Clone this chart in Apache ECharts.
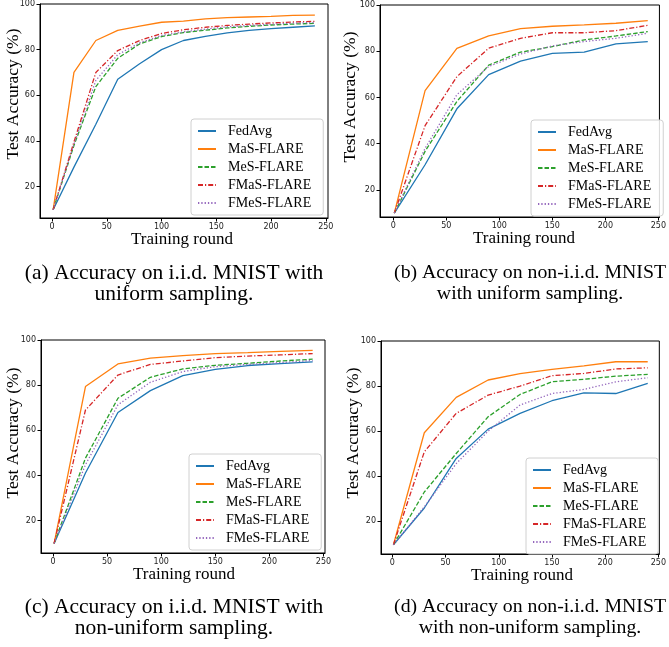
<!DOCTYPE html>
<html>
<head>
<meta charset="utf-8">
<script src="https://cdn.jsdelivr.net/npm/echarts@6/dist/echarts.min.js"></script>
<style>
html,body{margin:0;padding:0;background:#fff;}
#chart{width:669px;height:647px;}
</style>
</head>
<body>
<div id="chart"></div>
<script>
// ---------- data ----------
const seriesNames = ['FedAvg', 'MaS-FLARE', 'MeS-FLARE', 'FMaS-FLARE', 'FMeS-FLARE'];
const roundsA = [1, 20, 40, 60, 80, 100, 120, 140, 160, 180, 200, 220, 240];
const roundsB = [1, 30, 60, 90, 120, 150, 180, 210, 240];
const xTicks = [0, 50, 100, 150, 200, 250];
const yTicks = [20, 40, 60, 80, 100];

// (a) i.i.d., uniform
const aFedAvg = [9.8, 28.5, 47.3, 67.0, 73.8, 80.0, 84.0, 85.8, 87.3, 88.4, 89.2, 89.8, 90.4];
const aMaS    = [9.8, 70.0, 84.0, 88.4, 90.3, 92.0, 92.5, 93.5, 94.0, 94.3, 94.6, 95.0, 95.1];
const aMeS    = [9.8, 38.0, 63.8, 76.2, 82.5, 85.7, 87.5, 88.5, 89.5, 90.2, 90.8, 91.2, 91.5];
const aFMaS   = [9.8, 39.5, 70.0, 79.6, 84.0, 87.1, 88.7, 89.8, 90.6, 91.2, 91.7, 92.1, 92.4];
const aFMeS   = [9.8, 38.5, 66.5, 77.8, 83.0, 86.2, 87.8, 89.0, 90.0, 90.6, 91.1, 91.6, 91.9];
// (b) non-i.i.d., uniform
const bFedAvg = [10.0, 30.9, 55.1, 69.9, 75.7, 79.1, 79.6, 83.2, 84.2];
const bMaS    = [10.0, 63.0, 81.2, 86.6, 89.8, 90.8, 91.4, 92.1, 93.2];
const bMeS    = [10.0, 36.7, 58.3, 74.0, 79.6, 82.0, 84.9, 86.6, 88.5];
const bFMaS   = [10.0, 47.8, 69.0, 81.3, 85.6, 88.0, 88.0, 88.9, 91.2];
const bFMeS   = [10.0, 38.0, 61.2, 73.4, 78.8, 82.3, 84.2, 85.6, 87.8];
// (c) i.i.d., non-uniform
const cFedAvg = [9.9, 41.1, 67.9, 77.6, 84.2, 87.0, 88.7, 89.5, 90.3];
const cMaS    = [9.9, 79.4, 89.4, 92.0, 93.1, 94.0, 94.4, 95.0, 95.4];
const cMeS    = [9.9, 47.7, 74.2, 83.5, 87.2, 88.8, 89.7, 90.7, 91.5];
const cFMaS   = [9.9, 69.0, 84.5, 89.2, 90.7, 92.2, 92.9, 93.4, 94.0];
const cFMeS   = [9.9, 44.8, 71.3, 81.3, 86.0, 88.2, 89.2, 90.0, 90.9];
// (d) non-i.i.d., non-uniform
const dFedAvg = [9.6, 25.9, 47.9, 60.9, 67.9, 73.5, 77.0, 76.7, 81.2];
const dMaS    = [9.6, 59.3, 75.0, 82.7, 85.5, 87.4, 89.0, 90.8, 90.8];
const dMeS    = [9.6, 33.0, 50.1, 66.4, 76.3, 81.9, 83.0, 84.4, 85.2];
const dFMaS   = [9.6, 50.8, 67.9, 76.0, 80.0, 84.6, 85.6, 87.6, 88.1];
const dFMeS   = [9.6, 26.4, 45.6, 60.0, 71.6, 76.7, 78.5, 81.9, 83.7];

const captions = [
  ['(a) Accuracy on i.i.d. MNIST with', 'uniform sampling.'],
  ['(b) Accuracy on non-i.i.d. MNIST', 'with uniform sampling.'],
  ['(c) Accuracy on i.i.d. MNIST with', 'non-uniform sampling.'],
  ['(d) Accuracy on non-i.i.d. MNIST', 'with non-uniform sampling.']
];
const xTitle = 'Training round';
const yTitle = 'Test Accuracy (%)';

// ---------- layout / style ----------
const panels = [
  {rounds: roundsA, vals: [aFedAvg, aMaS, aMeS, aFMaS, aFMeS], grid: {left: 40, top: 3, width: 288, height: 215}, x: [-11, 252], y: [6.2, 100],
   legend: {left: 191, top: 119}, xt: [182, 240], yt: [13, 94], cap: [174, 273, 294], capSize: 21.5},
  {rounds: roundsB, vals: [bFedAvg, bMaS, bMeS, bFMaS, bFMeS], grid: {left: 380, top: 5, width: 287, height: 212}, x: [-12.5, 251], y: [8.3, 100],
   legend: {left: 531, top: 120}, xt: [524, 239], yt: [350, 97], cap: [530, 273, 294], capSize: 19.8},
  {rounds: roundsB, vals: [cFedAvg, cMaS, cMeS, cFMaS, cFMeS], grid: {left: 41, top: 340, width: 284, height: 213}, x: [-11.1, 251.4], y: [5.7, 100],
   legend: {left: 189, top: 454}, xt: [184, 575], yt: [13, 433], cap: [174, 607, 628], capSize: 21.5},
  {rounds: roundsB, vals: [dFedAvg, dMaS, dMeS, dFMaS, dFMeS], grid: {left: 381, top: 341, width: 284, height: 213}, x: [-10.7, 250.9], y: [5.5, 100],
   legend: {left: 526, top: 458}, xt: [522, 576], yt: [353, 433], cap: [530, 607, 628], capSize: 19.8}
];
const colors = ['#1f77b4', '#ff7f0e', '#2ca02c', '#d62728', '#9467bd'];
const dashes = ['solid', 'solid', [4.5, 2], [5, 2, 1.2, 2], [1.3, 2]];
const LW = 1.3;
const serif = '"Liberation Serif", "Times New Roman", serif';
const sans = '"DejaVu Sans", sans-serif';

const grids = [], xAxes = [], yAxes = [], series = [], legends = [], graphics = [];
panels.forEach((p, i) => {
  grids.push(Object.assign({show: true, borderColor: '#000', borderWidth: 1, backgroundColor: 'transparent'}, p.grid));
  xAxes.push({
    type: 'value', gridIndex: i, min: p.x[0], max: p.x[1],
    axisLine: {show: true, onZero: false, lineStyle: {color: '#000', width: 1}},
    axisTick: {show: true, length: 3.5, customValues: xTicks, lineStyle: {color: '#000'}},
    axisLabel: {show: true, customValues: xTicks, fontSize: 8, fontFamily: sans, color: '#222', margin: 5},
    splitLine: {show: false}
  });
  yAxes.push({
    type: 'value', gridIndex: i, min: p.y[0], max: p.y[1],
    axisLine: {show: true, onZero: false, lineStyle: {color: '#000', width: 1}},
    axisTick: {show: true, length: 3.5, customValues: yTicks, lineStyle: {color: '#000'}},
    axisLabel: {show: true, customValues: yTicks, fontSize: 8, fontFamily: sans, color: '#222', margin: 5},
    splitLine: {show: false}
  });
  seriesNames.forEach((name, k) => {
    series.push({
      type: 'line', name: name, xAxisIndex: i, yAxisIndex: i,
      data: p.rounds.map((r, j) => [r, p.vals[k][j]]),
      symbol: 'none', showSymbol: false, silent: true, z: 2 + k,
      color: colors[k],
      lineStyle: {color: colors[k], width: LW, type: dashes[k]}
    });
  });
  legends.push({
    data: seriesNames, orient: 'vertical', left: p.legend.left, top: p.legend.top,
    itemWidth: 18, itemHeight: 10, itemGap: 4,
    padding: [5, 12, 5, 6],
    backgroundColor: 'rgba(255,255,255,0.85)', borderColor: '#d0d0d0', borderWidth: 1, borderRadius: 3,
    itemStyle: {opacity: 0, borderWidth: 0},
    textStyle: {fontFamily: serif, fontSize: 14, color: '#000', lineHeight: 14, padding: [0, 0, 0, 7]},
    selectedMode: false, z: 10
  });
  graphics.push({type: 'text', x: p.xt[0], y: p.xt[1], style: {text: xTitle, font: '17px ' + serif, fill: '#000', textAlign: 'center', textVerticalAlign: 'middle'}});
  graphics.push({type: 'text', x: p.yt[0], y: p.yt[1], rotation: Math.PI / 2, style: {text: yTitle, font: '17.5px ' + serif, fill: '#000', textAlign: 'center', textVerticalAlign: 'middle'}});
  graphics.push({type: 'text', x: p.cap[0], y: p.cap[1], style: {text: captions[i][0], font: p.capSize + 'px ' + serif, fill: '#000', textAlign: 'center', textVerticalAlign: 'middle'}});
  graphics.push({type: 'text', x: p.cap[0], y: p.cap[2], style: {text: captions[i][1], font: p.capSize + 'px ' + serif, fill: '#000', textAlign: 'center', textVerticalAlign: 'middle'}});
});

const chart = echarts.init(document.getElementById('chart'), null, {renderer: 'canvas'});
chart.setOption({
  animation: false,
  backgroundColor: '#fff',
  grid: grids, xAxis: xAxes, yAxis: yAxes, series: series, legend: legends,
  graphic: graphics
});
</script>
</body>
</html>
